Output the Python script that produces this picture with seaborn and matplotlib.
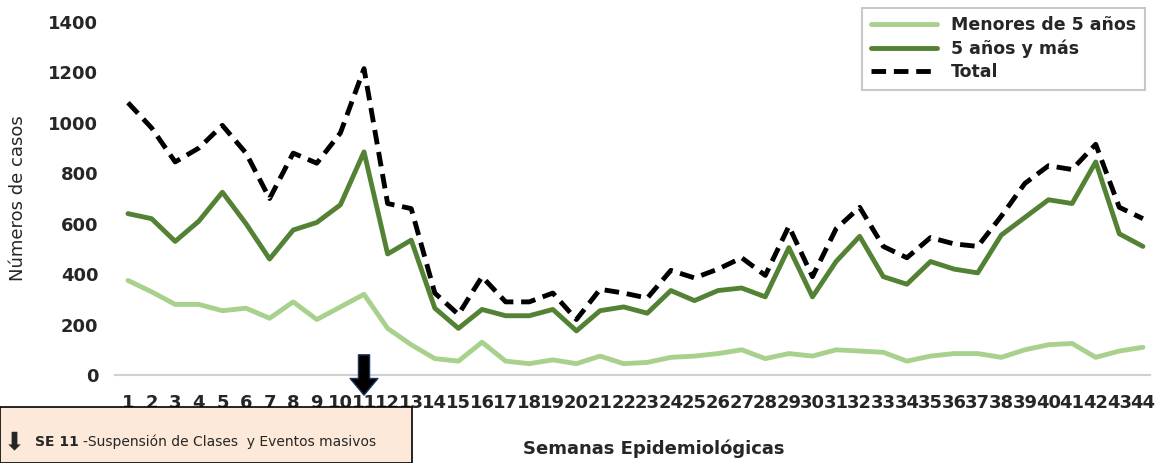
import matplotlib
matplotlib.use("Agg")
import matplotlib.pyplot as plt
import seaborn as sns
import pandas as pd

weeks = list(range(1, 45))
menores = [375,330,280,280,255,265,225,290,220,270,320,185,120,65,55,130,55,45,60,45,75,45,50,70,75,85,100,65,85,75,100,95,90,55,75,85,85,70,100,120,125,70,95,110]
mayores = [640,620,530,610,725,600,460,575,605,675,885,480,535,265,185,260,235,235,260,175,255,270,245,335,295,335,345,310,505,310,450,550,390,360,450,420,405,555,625,695,680,845,560,510]
total = [1080,980,845,900,990,880,700,880,840,960,1215,680,660,325,240,390,290,290,325,220,340,325,305,415,385,420,465,395,590,390,580,665,510,465,545,520,510,630,760,830,815,915,665,620]

sns.set_theme(style="white")
plt.rcParams['font.family'] = ['DejaVu Sans']
fig = plt.figure(figsize=(11.57, 4.63), dpi=100)
ax = fig.add_axes([115/1157, 1-375/463, 1035/1157, 353/463])

df = pd.DataFrame({"w": weeks, "m": menores, "g": mayores, "t": total})
sns.lineplot(data=df, x="w", y="m", ax=ax, color="#a9d18e", lw=3.5, label="Menores de 5 años")
sns.lineplot(data=df, x="w", y="g", ax=ax, color="#548235", lw=3.5, label="5 años y más")
sns.lineplot(data=df, x="w", y="t", ax=ax, color="black", lw=3.5, ls=(0, (3, 1.6)), label="Total")

ax.set_xlim(0.45, 44.3)
ax.set_ylim(0, 1400)
ax.set_xticks(weeks)
ax.set_xticklabels([str(w) for w in weeks], fontsize=13, fontweight="bold")
ax.set_yticks(range(0, 1401, 200))
ax.set_yticklabels([str(v) for v in range(0, 1401, 200)], fontsize=13, fontweight="bold")
ax.tick_params(axis="x", pad=14, length=0)
ax.tick_params(axis="y", pad=12, length=0)
for s in ["top", "right", "left"]:
    ax.spines[s].set_visible(False)
ax.spines["bottom"].set_color("#d0d0d0")
ax.spines["bottom"].set_linewidth(1.5)
ax.set_xlabel("")
ax.set_ylabel("Números de casos", fontsize=13)
ax.yaxis.set_label_coords(-0.085, 0.5)
fig.text(0.565, 0.01, "Semanas Epidemiológicas", fontsize=13, fontweight="bold", ha="center", va="bottom")

leg = ax.legend(loc="upper right", bbox_to_anchor=(1.0, 1.055), fontsize=12.5, frameon=True,
                fancybox=False, edgecolor="#bbbbbb", handlelength=3.8, borderpad=0.5,
                labelspacing=0.3, borderaxespad=0.3)
leg.get_frame().set_linewidth(1.5)
for t in leg.get_texts():
    t.set_fontweight("bold")

# arrow at week 11
ax.annotate("", xy=(11, -80), xytext=(11, 80), xycoords="data",
            arrowprops=dict(facecolor="black", edgecolor="#1f3864", width=8, headwidth=20, headlength=12),
            annotation_clip=False)

# note box
fig.patches.append(plt.Rectangle((0, 0), 412/1157, 56/463, transform=fig.transFigure,
                                 facecolor="#fde9d9", edgecolor="black", lw=1.2))
fig.text(0.012, 0.045, "\u2b07", fontsize=18, va="center", ha="center", family=["DejaVu Sans"])
fig.text(0.03, 0.045, "SE 11", fontsize=10, fontweight="bold", va="center")
fig.text(0.072, 0.045, "-Suspensión de Clases  y Eventos masivos", fontsize=10, va="center")

fig.savefig("out.png", dpi=100)
